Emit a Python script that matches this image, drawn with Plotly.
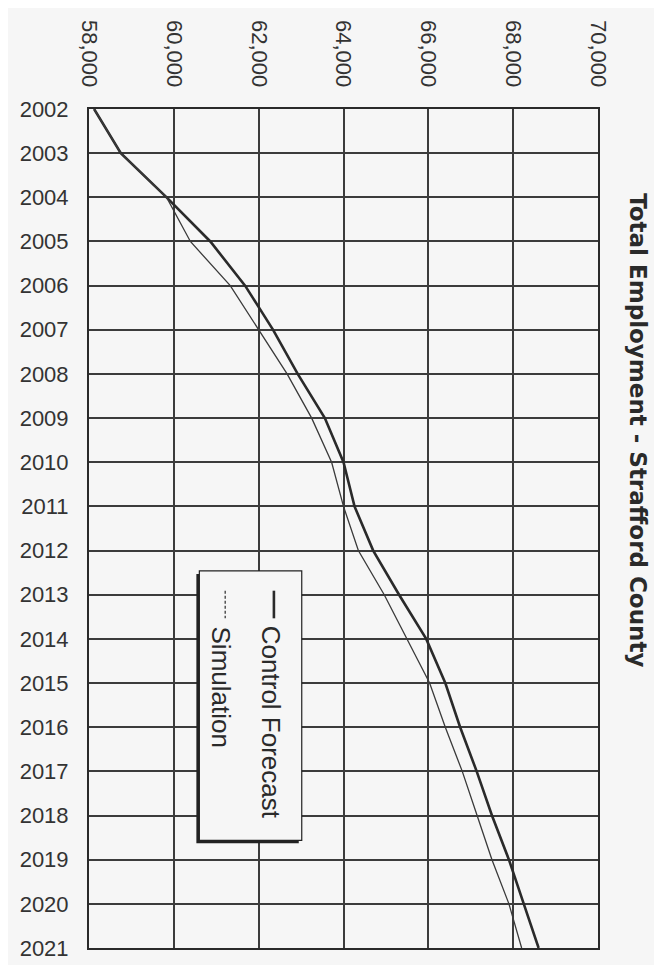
import plotly.graph_objects as go

years = list(range(2002, 2022))
control_forecast = [58120, 58750, 59830, 60860, 61680, 62340, 62920, 63560, 64000, 64260,
                    64700, 65310, 65950, 66400, 66750, 67140, 67500, 67900, 68250, 68600]
simulation = [58120, 58750, 59830, 60390, 61330, 61990, 62670, 63250, 63720, 64000,
              64350, 64960, 65500, 66030, 66400, 66800, 67150, 67500, 67900, 68200]
value_ticks = [58000, 60000, 62000, 64000, 66000, 68000, 70000]
value_tick_labels = ["58,000", "60,000", "62,000", "64,000", "66,000", "68,000", "70,000"]
title_text = "Total Employment - Strafford County"
series_names = ["Control Forecast", "Simulation"]

W, H = 662, 965
L, R, T, B = 78, 590, 99, 949
BG = "#f6f6f6"
INK = "#333333"


def fx(px):
    return (px - L) / (R - L)


def fy(py):
    return 1 - (py - T) / (B - T)


fig = go.Figure()
fig.add_trace(go.Scatter(x=control_forecast, y=years, mode="lines", name=series_names[0],
                         line=dict(color="#2a2a2a", width=2.6), showlegend=False))
fig.add_trace(go.Scatter(x=simulation, y=years, mode="lines", name=series_names[1],
                         line=dict(color="#3a3a3a", width=1.3), showlegend=False))

shapes = []
# legend shadow and box
shapes.append(dict(type="rect", xref="paper", yref="paper",
                   x0=fx(186), x1=fx(289), y0=fy(843), y1=fy(570),
                   fillcolor="#222222", line=dict(width=0), layer="above"))
shapes.append(dict(type="rect", xref="paper", yref="paper",
                   x0=fx(189), x1=fx(292), y0=fy(840), y1=fy(567),
                   fillcolor=BG, line=dict(color="#222222", width=1.2), layer="above"))
# legend samples
shapes.append(dict(type="line", xref="paper", yref="paper",
                   x0=fx(264), x1=fx(264), y0=fy(587), y1=fy(615),
                   line=dict(color="#2a2a2a", width=2.6), layer="above"))
shapes.append(dict(type="line", xref="paper", yref="paper",
                   x0=fx(215), x1=fx(215), y0=fy(587), y1=fy(615),
                   line=dict(color="#3a3a3a", width=1.3, dash="3px,2px"), layer="above"))

annotations = [
    dict(text=f"<b>{title_text}</b>", xref="paper", yref="paper", x=fx(630), y=fy(182),
         xanchor="center", yanchor="top", textangle=90, showarrow=False,
         font=dict(family="DejaVu Sans", size=23, color="#2a2a2a")),
    dict(text=series_names[0], xref="paper", yref="paper", x=fx(261), y=fy(621),
         xanchor="center", yanchor="top", textangle=90, showarrow=False,
         font=dict(family="Liberation Sans", size=26, color="#2a2a2a")),
    dict(text=series_names[1], xref="paper", yref="paper", x=fx(211), y=fy(621),
         xanchor="center", yanchor="top", textangle=90, showarrow=False,
         font=dict(family="Liberation Sans", size=26, color="#2a2a2a")),
]

fig.update_layout(
    width=W, height=H,
    margin=dict(l=L, r=W - R, t=T, b=H - B, pad=0),
    paper_bgcolor=BG, plot_bgcolor=BG,
    showlegend=False,
    font=dict(family="Liberation Sans", size=22, color=INK),
    shapes=shapes,
    annotations=annotations,
    xaxis=dict(range=[58000, 70000], side="top", tickmode="array",
               tickvals=value_ticks, ticktext=value_tick_labels, tickangle=90,
               showgrid=True, gridcolor="#3c3c3c", gridwidth=1.5,
               showline=True, linecolor="#2a2a2a", linewidth=2, mirror=True,
               ticks="", ticklabelstandoff=12, zeroline=False,
               tickfont=dict(family="Liberation Sans", size=22, color=INK)),
    yaxis=dict(range=[2021, 2002], tickmode="array", tickvals=years,
               ticktext=[str(y) for y in years],
               showgrid=True, gridcolor="#3c3c3c", gridwidth=1.5,
               showline=True, linecolor="#2a2a2a", linewidth=2, mirror=True,
               ticks="", ticklabelstandoff=14, zeroline=False,
               tickfont=dict(family="Liberation Sans", size=22, color=INK)),
)

fig.write_html("out.html")
